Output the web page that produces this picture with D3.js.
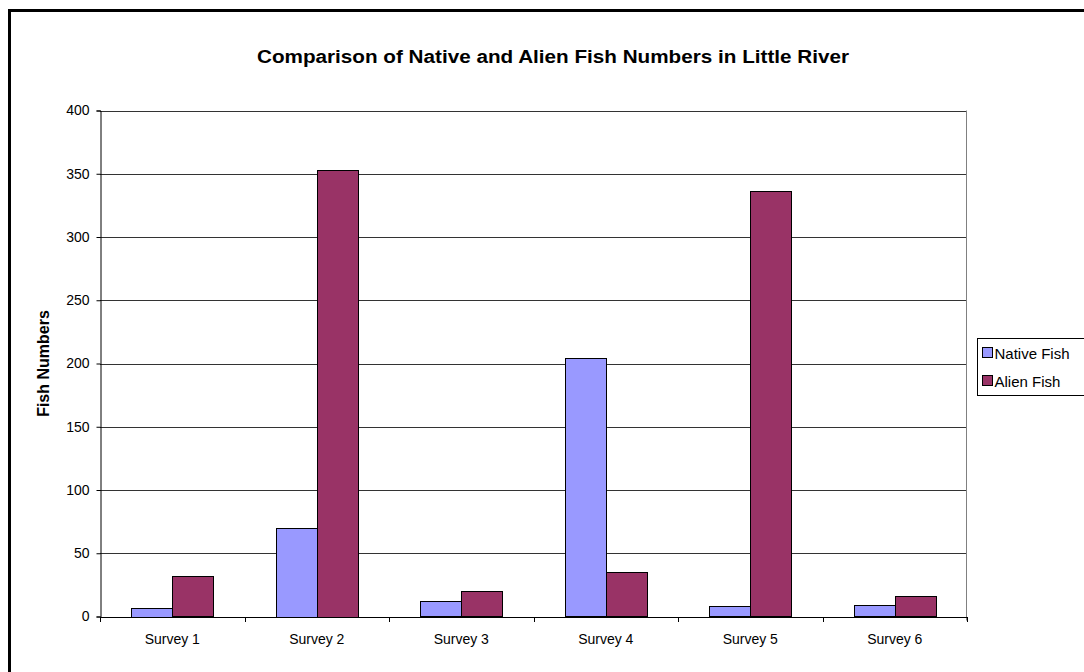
<!DOCTYPE html>
<html><head><meta charset="utf-8">
<script src="https://cdn.jsdelivr.net/npm/d3@7"></script>
<style>body{margin:0;background:#fff}svg{display:block}text{font-family:"Liberation Sans",Arial,sans-serif}</style>
</head><body>
<script>
const categories = ["Survey 1","Survey 2","Survey 3","Survey 4","Survey 5","Survey 6"];
const seriesNames = ["Native Fish","Alien Fish"];
const nativeFish = [7,70,12,204,8,9];
const alienFish = [32,353,20,35,336,16];
const yTicks = [0,50,100,150,200,250,300,350,400];
const colors = ["#9999FF","#993366"];
const title = "Comparison of Native and Alien Fish Numbers in Little River";
const yLabel = "Fish Numbers";

const W=1084,H=672;
const svg=d3.select("body").append("svg").attr("width",W).attr("height",H);
svg.append("rect").attr("x",9.5).attr("y",10.5).attr("width",1100).attr("height",700)
  .attr("fill","#fff").attr("stroke","#000").attr("stroke-width",3);

const L=100,R=967,T=110.5,B=616.5;
const x=d3.scaleBand().domain(categories).range([L,R]).paddingInner(0).paddingOuter(0);
const x1=d3.scaleBand().domain(seriesNames).range([0,x.bandwidth()]).paddingInner(0).paddingOuter(0.76);
const y=d3.scaleLinear().domain([0,400]).range([B,T]);

// gridlines
svg.append("g").selectAll("line").data(yTicks.filter(d=>d>0)).join("line")
  .attr("x1",L).attr("x2",R).attr("y1",d=>Math.round(y(d))+0.5).attr("y2",d=>Math.round(y(d))+0.5)
  .attr("stroke","#333").attr("stroke-width",1);
// right border
svg.append("line").attr("x1",R-0.5).attr("x2",R-0.5).attr("y1",y(400)).attr("y2",B+4)
  .attr("stroke","#808080");

// bars
const data=categories.map((c,i)=>({c,vals:[nativeFish[i],alienFish[i]]}));
const g=svg.append("g");
data.forEach(d=>{
  d.vals.forEach((v,j)=>{
    const bx=x(d.c)+x1(seriesNames[j]);
    g.append("rect").attr("x",Math.round(bx)+0.5).attr("y",Math.round(y(v))+0.5)
      .attr("width",Math.round(x1.bandwidth())).attr("height",Math.round(B-y(v)))
      .attr("fill",colors[j]).attr("stroke","#000").attr("stroke-width",1);
  });
});

// y axis
const ya=svg.append("g").attr("transform",`translate(${L+0.5},0)`)
  .call(d3.axisLeft(y).tickValues(yTicks).tickSize(4).tickPadding(7).tickFormat(d3.format("d")));
ya.select(".domain").attr("stroke","#000");
ya.selectAll(".tick line").attr("stroke","#000");
ya.selectAll("text").attr("font-size",14).attr("fill","#000").attr("font-family","Liberation Sans, Arial, sans-serif");

// x axis
const xa=svg.append("g").attr("transform",`translate(0,${B+0.5})`)
  .call(d3.axisBottom(x).tickSize(0).tickPadding(17));
xa.select(".domain").attr("stroke","#000");
xa.selectAll("text").attr("font-size",14).attr("fill","#000").attr("font-family","Liberation Sans, Arial, sans-serif");
const bounds=categories.map(c=>x(c)).concat([R]);
xa.selectAll(".bt").data(bounds).join("line").attr("class","bt")
  .attr("x1",d=>Math.round(d)+0.5).attr("x2",d=>Math.round(d)+0.5).attr("y1",0).attr("y2",5).attr("stroke","#000");

// title
svg.append("text").attr("x",553).attr("y",63).attr("text-anchor","middle")
  .attr("font-size",18).attr("font-weight","bold")
  .attr("textLength",592).attr("lengthAdjust","spacingAndGlyphs").text(title);
// y label
svg.append("text").attr("transform",`translate(49,${(T+B)/2}) rotate(-90)`).attr("text-anchor","middle")
  .attr("font-size",16).attr("font-weight","bold").text(yLabel);

// legend
const lg=svg.append("g").attr("transform","translate(977.5,338.5)");
lg.append("rect").attr("width",110).attr("height",57).attr("fill","#fff").attr("stroke","#000");
seriesNames.forEach((s,i)=>{
  lg.append("rect").attr("x",5).attr("y",9+i*28).attr("width",10).attr("height",10)
    .attr("fill",colors[i]).attr("stroke","#000");
  lg.append("text").attr("x",17).attr("y",20+i*28).attr("font-size",15).text(s);
});
</script>
</body></html>
